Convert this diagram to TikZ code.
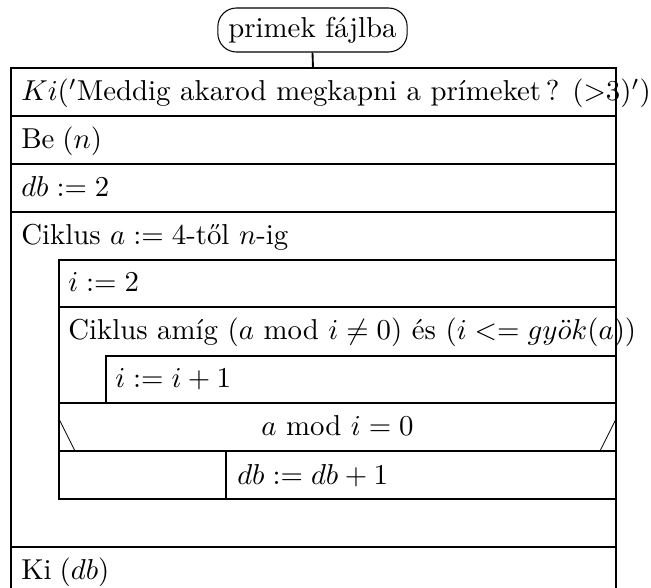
\documentclass[tikz,border=0pt]{standalone}
\usepackage{fontspec}
\newcommand{\tx}[1]{\scalebox{2.16}{#1}}
\begin{document}
\begin{tikzpicture}[x=0.75pt,y=-0.75pt,
  sline/.style={line width=1.1pt},
  conn/.style={line width=1.4pt},
  diag/.style={line width=0.6pt},
  txt/.style={anchor=base west,inner sep=0pt,font=\fontsize{10pt}{12pt}\selectfont},
  ctxt/.style={anchor=base,inner sep=0pt,font=\fontsize{10pt}{12pt}\selectfont},
  term/.style={draw,line width=0.8pt,rounded corners=14pt,minimum height=33pt,minimum width=142pt,inner sep=0pt,font=\fontsize{10pt}{12pt}\selectfont}]
\useasboundingbox (0,0) rectangle (651,588);
% terminal
\node[term] (start) at (312.5,30) {\tx{primek fájlba}};
\coordinate (mtop) at (313,68);
\draw[conn] (start.south) -- (mtop);
% outer frame
\draw[sline] (11,588) -- (11,68) -- (616,68) -- (616,588);
\foreach \y in {116,164,212,547} \draw[sline] (11,\y) -- (616,\y);
% inner loop
\draw[sline] (616,260) -- (59,260) -- (59,499) -- (616,499);
\draw[sline] (59,307) -- (616,307);
\draw[sline] (616,356) -- (106,356) -- (106,403);
\draw[sline] (59,403) -- (616,403);
\draw[sline] (59,451) -- (616,451);
\draw[sline] (226,451) -- (226,499);
\draw[diag] (59,419) -- (75,451);
\draw[diag] (616,419) -- (600,451);
% texts
\node[txt] (t1) at (21,101) {\tx{$Ki('$Meddig akarod megkapni a prímeket\,? $({>}3)')$}};
\node[txt] (t2) at (21,149) {\tx{Be\;$(n)$}};
\node[txt] (t3) at (21,197) {\tx{$db := 2$}};
\node[txt] (t4) at (21,245) {\tx{Ciklus $a := 4$-től $n$-ig}};
\node[txt] (t5) at (68,292) {\tx{$i := 2$}};
\node[txt] (t6) at (68,340) {\tx{Ciklus amíg $(a$ mod $i \neq 0)$ és $(i <= gy\ddot{o}k(a))$}};
\node[txt] (t7) at (115,388) {\tx{$i := i+1$}};
\node[ctxt] (t8) at (337.5,436) {\tx{$a$ mod $i = 0$}};
\node[txt] (t9) at (237,484) {\tx{$db := db+1$}};
\node[txt] (t10) at (21,580) {\tx{Ki\;$(db)$}};
\end{tikzpicture}
\end{document}
